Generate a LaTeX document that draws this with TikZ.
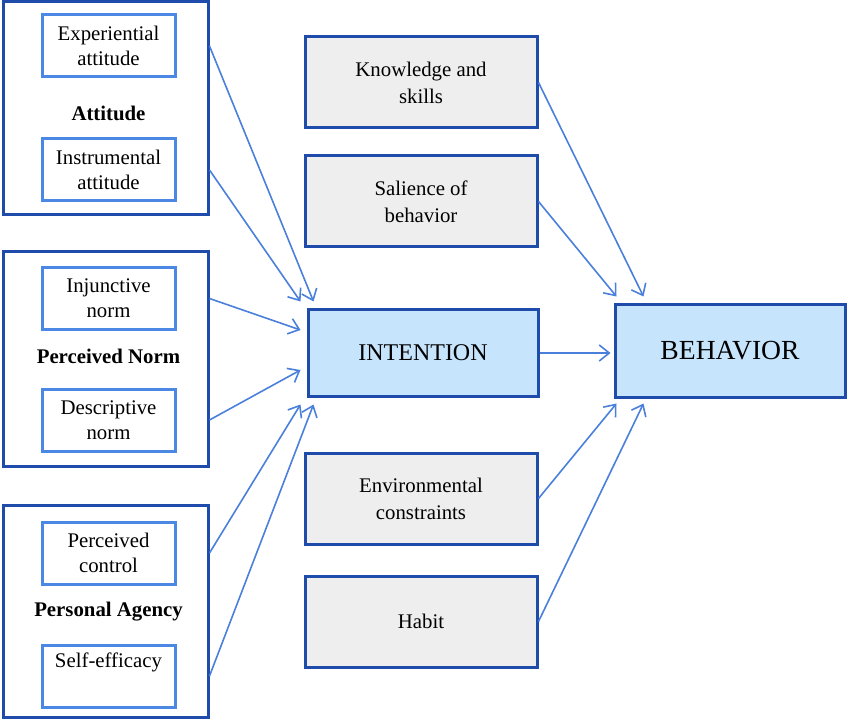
\documentclass[tikz,border=0pt]{standalone}
\usepackage{fontspec}
\setmainfont{Liberation Serif}
\usetikzlibrary{arrows.meta}
\definecolor{darkframe}{HTML}{1F4BAA}
\definecolor{lightframe}{HTML}{4A88E4}
\definecolor{arrowblue}{HTML}{4A80DC}
\definecolor{mainfill}{HTML}{C6E4FC}
\definecolor{greyfill}{HTML}{EEEEEE}
\begin{document}
\begin{tikzpicture}[x=0.5pt, y=-0.5pt,
		group/.style={draw=darkframe, line width=1.5pt, minimum width=102.5pt},
		inner/.style={draw=lightframe, line width=1.5pt, minimum width=66.5pt, minimum height=31pt, align=center, font=\fontsize{10.4}{12.5}\selectfont},
		factor/.style={draw=darkframe, line width=1.5pt, fill=greyfill, minimum width=116pt, minimum height=45.5pt, align=center, font=\fontsize{10.4}{13.5}\selectfont},
		core/.style={draw=darkframe, line width=1.5pt, fill=mainfill, minimum width=115pt},
		heading/.style={font=\fontsize{10.4}{12.5}\selectfont\bfseries},
		link/.style={draw=arrowblue, line width=0.8pt, -{Straight Barb[length=5pt, width=8pt]}}]
			\useasboundingbox (0,0) rectangle (850,721);
			
			\node[group, minimum height=106.5pt] (attitude) at (105.5,108.5) {};
			\node[inner] (experiential) at (108.5,46) {Experiential\\attitude};
			\node[heading] (attitude label) at (108.5,113) {Attitude};
			\node[inner] (instrumental) at (108.5,170) {Instrumental\\attitude};
			
			\node[group, minimum height=107pt] (norm) at (105.5,359) {};
			\node[inner] (injunctive) at (108.5,298.5) {Injunctive\\norm};
			\node[heading] (norm label) at (108.5,356) {Perceived Norm};
			\node[inner] (descriptive) at (108.5,420) {Descriptive\\norm};
			
			\node[group, minimum height=106pt] (agency) at (105.5,611) {};
			\node[inner] (control) at (108.5,553) {Perceived\\control};
			\node[heading] (agency label) at (108.5,612) {Personal Agency};
			\node[inner] (efficacy) at (108.5,676) {Self-efficacy\\\strut};
			
			\node[factor] (knowledge) at (421,82.5) {Knowledge and\\skills};
			\node[factor] (salience) at (421,201.5) {Salience of\\behavior};
			\node[core, minimum height=43pt, font=\fontsize{12}{14}\selectfont] (intention) at (423,353) {INTENTION};
			\node[factor] (environment) at (421,498.5) {Environmental\\constraints};
			\node[factor] (habit) at (421,621.5) {Habit};
			\node[core, minimum height=46pt, font=\fontsize{13.8}{16}\selectfont] (behavior) at (730,351) {BEHAVIOR};
			
			\draw[link] (attitude.east |- experiential.east) -- ([shift={(7,-7)}]intention.north west);
			\draw[link] (attitude.east |- instrumental.east) -- ([shift={(-6,-7)}]intention.north west);
			\draw[link] (norm.east |- injunctive.east) -- ([shift={(-6,-23)}]intention.west);
			\draw[link] (norm.east |- descriptive.east) -- ([shift={(-6,17)}]intention.west);
			\draw[link] (agency.east |- control.east) -- ([shift={(-6,7)}]intention.south west);
			\draw[link] (agency.east |- efficacy.east) -- ([shift={(7,7)}]intention.south west);
			
			\draw[link] (knowledge.east) -- ([shift={(30,-7)}]behavior.north west);
			\draw[link] (salience.east) -- ([shift={(3,-7)}]behavior.north west);
			\draw[link] (intention.east) -- ([xshift=-1.5pt]intention.east -| behavior.west);
			\draw[link] (environment.east) -- ([shift={(3,5)}]behavior.south west);
			\draw[link] (habit.east) -- ([shift={(30,5)}]behavior.south west);
		\end{tikzpicture}
\end{document}
